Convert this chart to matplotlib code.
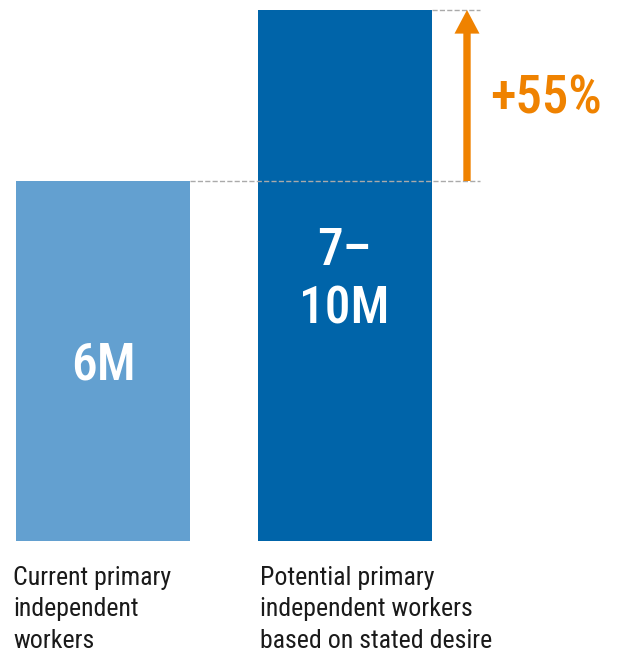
import matplotlib.pyplot as plt

# Data
categories = ['Current primary\nindependent\nworkers',
              'Potential primary\nindependent workers\nbased on stated desire']
values = [6.0, 8.85]
bar_labels = ['6M', '7–\n10M']
colors = ['#63A0D0', '#0064A9']
growth_label = '+55%'

plt.rcParams['font.family'] = ['Roboto Condensed', 'Archivo Narrow', 'PT Sans Narrow',
                               'Sofia Sans Condensed', 'Roboto', 'DejaVu Sans']

fig = plt.figure(figsize=(6.22, 6.53), dpi=100)
ax = fig.add_axes([0, 0, 1, 1])
ax.set_xlim(0, 622)
ax.set_ylim(-(653 - 541) / 60, 541 / 60)
ax.axis('off')

xpos = [103, 344.5]
width = 174
ax.bar(xpos, values, width=width, color=colors)

for x, v, lab in zip(xpos, values, bar_labels):
    ax.text(x, v / 2 - 0.08, lab, ha='center', va='center', color='white',
            fontsize=37, fontweight='medium', linespacing=1.2)

# category labels under the bars
for x, cat, off in zip(xpos, categories, [-3, 2]):
    ax.text(x - width / 2 + off, -0.42, cat, ha='left', va='top',
            fontsize=18.6, color='#1a1a1a', linespacing=1.38)

# dashed reference lines
ax.plot([xpos[0] + width / 2, 480], [values[0], values[0]], ls='--',
        color='#aaaaaa', lw=1)
ax.plot([xpos[1] + width / 2, 480], [values[1], values[1]], ls='--',
        color='#aaaaaa', lw=1)

# arrow
ax.annotate('', xy=(467, values[1]), xytext=(467, values[0]),
            arrowprops=dict(width=5.3, headwidth=18, headlength=17,
                            color='#EF8200', lw=0, shrink=0))
ax.text(490, (541 - 99) / 60, growth_label, ha='left', va='center',
        color='#EF8200', fontsize=38, fontweight='medium')

fig.savefig('out.png', dpi=100)
